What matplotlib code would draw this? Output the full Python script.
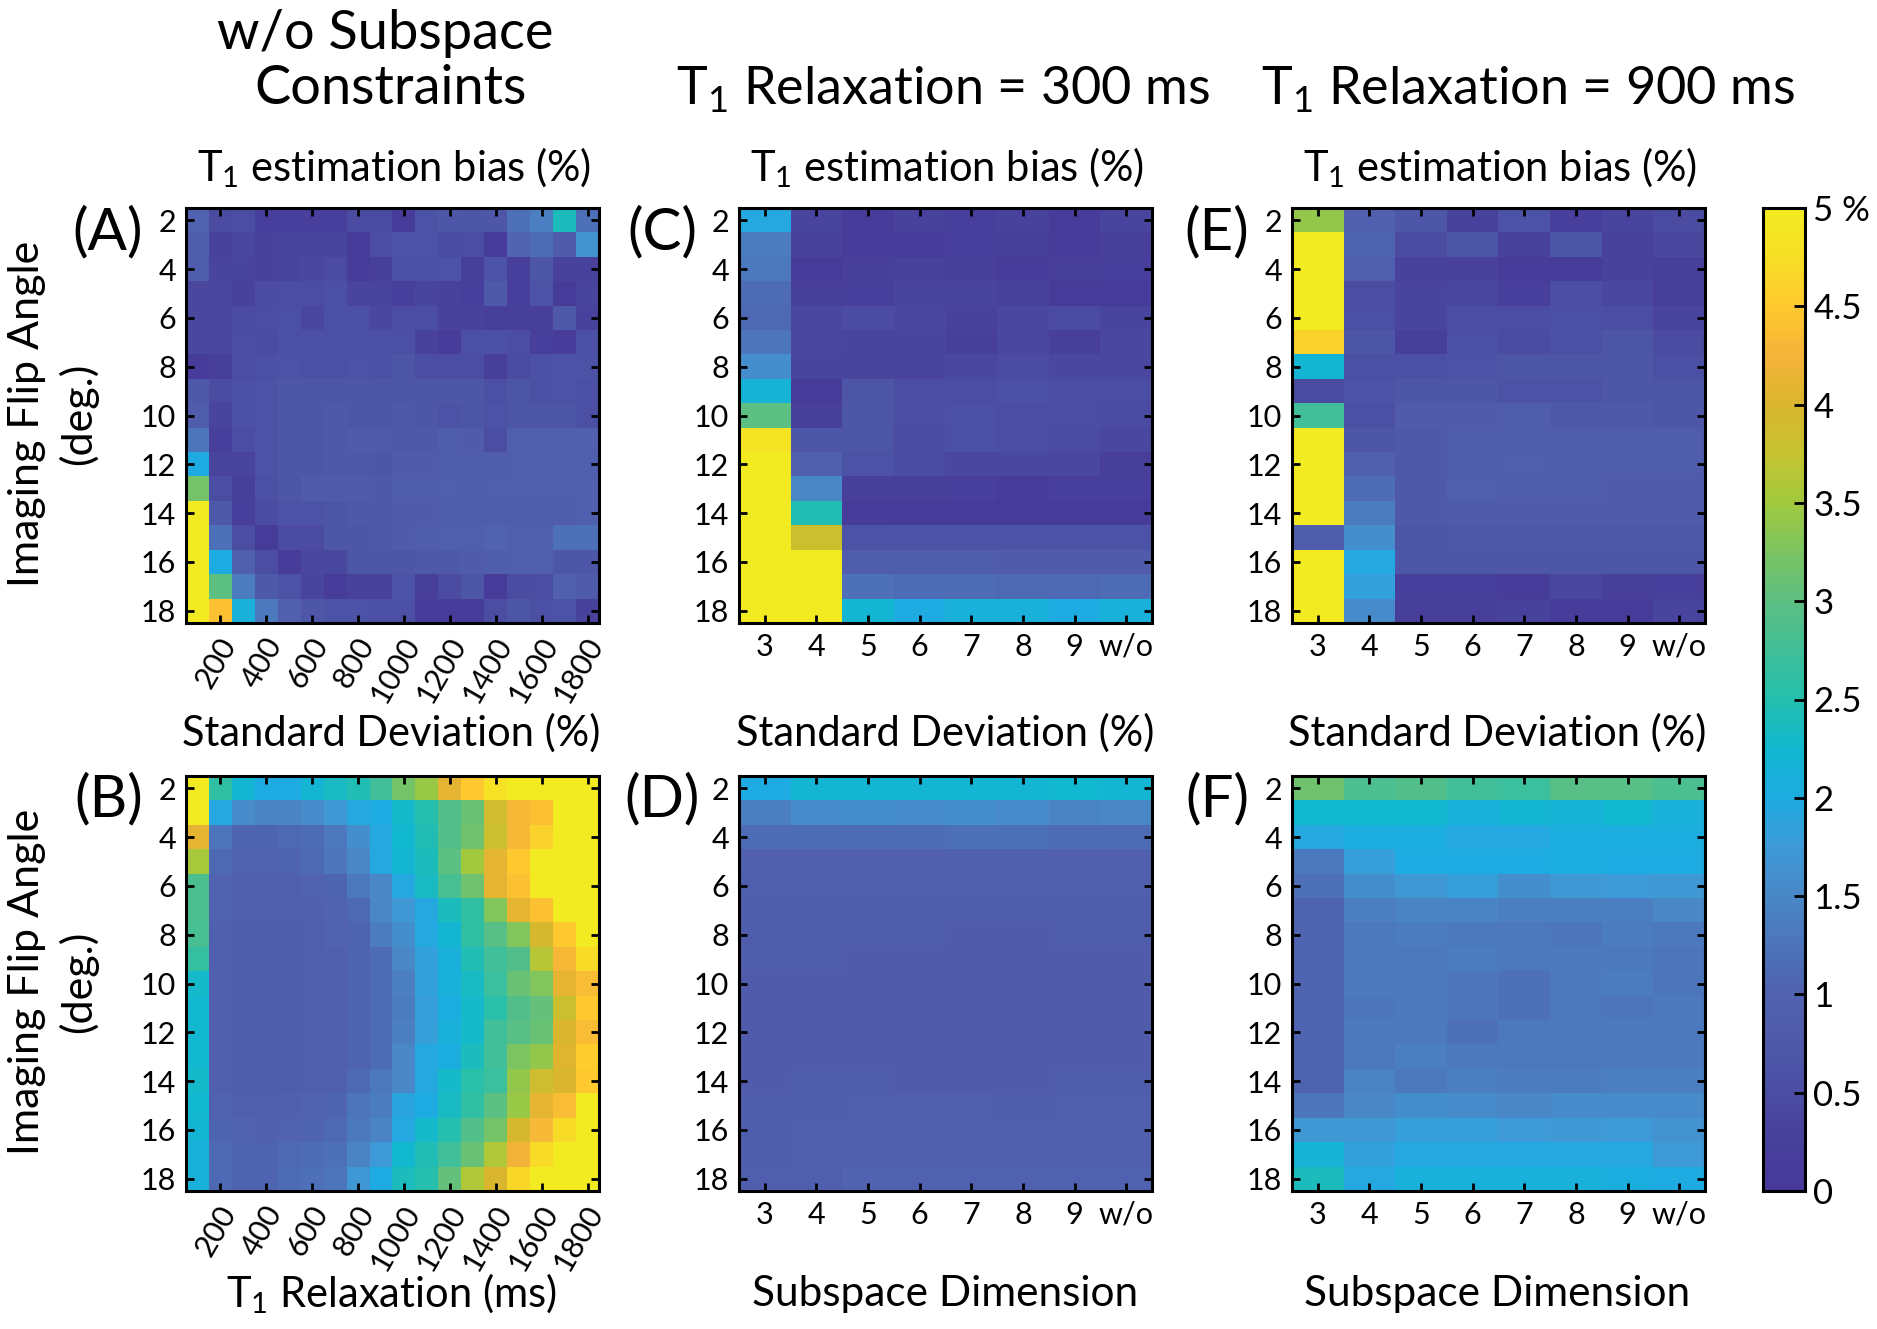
import numpy as np
import matplotlib
matplotlib.use('Agg')
import matplotlib.pyplot as plt
from matplotlib.colors import LinearSegmentedColormap
from matplotlib.transforms import ScaledTranslation

plt.rcParams['font.family'] = ['Lato', 'DejaVu Sans']
plt.rcParams['mathtext.default'] = 'regular'

flip_angles = list(range(2, 19))
t1_values = list(range(100, 1900, 100))
dim_labels = ['3', '4', '5', '6', '7', '8', '9', 'w/o']

bias_t1 = np.array([
    [1.0,.45,.5,.2,.2,.2,.2,.45,.45,.15,.6,.7,.65,.7,1.2,1.4,2.4,1.2],
    [.85,.3,.4,.3,.35,.35,.35,.15,.5,.6,.6,.45,.5,.15,1.0,1.15,.8,1.65],
    [.85,.35,.35,.3,.35,.4,.45,.15,.25,.55,.55,.6,.25,.6,.2,.7,.3,.3],
    [.4,.4,.3,.45,.5,.5,.55,.35,.35,.2,.35,.3,.2,.75,.2,.6,.1,.35],
    [.4,.4,.45,.5,.55,.4,.55,.55,.4,.5,.5,.3,.3,.25,.25,.25,.75,.3],
    [.4,.4,.5,.45,.55,.55,.55,.55,.55,.55,.3,.15,.55,.55,.5,.2,.15,.55],
    [.15,.25,.5,.55,.6,.55,.55,.6,.55,.65,.5,.5,.5,.25,.45,.55,.6,.6],
    [.75,.45,.55,.6,.7,.7,.7,.7,.7,.7,.7,.7,.7,.55,.65,.55,.6,.55],
    [.85,.35,.55,.6,.7,.7,.75,.7,.7,.75,.7,.6,.65,.6,.65,.65,.65,.55],
    [1.25,.2,.5,.6,.7,.7,.75,.8,.8,.75,.75,.85,.8,.5,.9,.9,.9,.95],
    [2.0,.35,.35,.6,.7,.7,.75,.75,.7,.8,.8,.85,.85,.85,.9,.9,.9,.9],
    [3.2,.5,.25,.55,.7,.8,.8,.8,.75,.85,.85,.9,.85,.9,.9,.9,.9,.95],
    [5,.75,.2,.45,.6,.6,.65,.75,.75,.8,.8,.85,.85,.85,.85,.85,.85,.95],
    [5,1.2,.5,.1,.45,.45,.7,.7,.75,.8,.85,.9,.9,1.0,.9,.9,1.2,1.2],
    [5,2.0,.9,.5,.15,.4,.4,.65,.7,.7,.75,.75,.8,.85,.9,.9,.7,.7],
    [5,3.0,1.35,.75,.6,.35,.15,.3,.3,.6,.25,.45,.65,.1,.45,.5,.95,.8],
    [5,4.4,2.1,1.3,.95,.7,.6,.6,.55,.55,.15,.15,.15,.5,.65,.55,.6,.3],
])

std_t1 = np.array([
    [5,2.6,2.2,2.0,2.0,2.2,2.35,2.45,2.75,3.2,3.45,4.1,4.5,4.8,5,5,5,5],
    [5,1.95,1.55,1.45,1.45,1.55,1.7,1.95,2.0,2.3,2.5,2.9,3.1,3.9,4.3,4.4,5,5],
    [4.1,1.25,1.05,1.05,1.1,1.15,1.3,1.6,1.95,2.25,2.45,2.9,3.15,3.8,4.3,4.6,5,5],
    [3.55,1.1,1.0,1.0,1.05,1.1,1.25,1.5,1.95,2.2,2.4,3.0,3.5,4.1,4.5,5,5,5],
    [2.85,1.0,.95,.95,.95,1.0,1.05,1.3,1.5,1.95,2.35,2.8,3.15,4.1,4.4,5,5,5],
    [2.85,1.0,.9,.9,.9,.95,1.0,1.1,1.5,1.7,1.95,2.4,2.6,3.3,4.1,4.4,5,5],
    [2.8,.95,.85,.85,.85,.9,1.0,1.05,1.35,1.6,1.95,2.2,2.6,2.95,3.3,3.95,4.5,5],
    [2.65,.95,.85,.85,.85,.9,.95,1.05,1.15,1.5,1.85,2.1,2.45,2.75,2.9,3.65,4.3,4.7],
    [2.3,.95,.85,.85,.85,.9,.95,1.05,1.15,1.4,1.85,2.1,2.35,2.7,3.1,3.3,4.1,4.35],
    [2.25,.95,.85,.85,.85,.9,.95,1.05,1.15,1.35,1.8,2.05,2.3,2.55,2.9,3.05,3.8,4.5],
    [2.25,.95,.85,.85,.85,.9,.95,1.05,1.15,1.4,1.8,2.1,2.3,2.75,2.95,3.1,4.0,4.35],
    [2.25,.95,.85,.85,.85,.9,.95,1.05,1.15,1.5,1.95,2.05,2.4,2.75,3.25,3.4,4.05,4.55],
    [2.3,.95,.85,.85,.85,.9,.95,1.1,1.3,1.5,1.95,2.3,2.55,2.7,3.4,3.85,4.0,4.5],
    [2.25,1.0,.9,.9,.95,1.0,1.05,1.25,1.35,1.9,2.0,2.35,2.6,3.0,3.45,4.1,4.35,5],
    [2.2,1.05,1.0,.95,1.0,1.05,1.1,1.3,1.45,1.95,2.3,2.5,2.9,3.2,3.95,4.3,4.7,5],
    [2.1,1.1,1.05,1.05,1.1,1.15,1.2,1.45,1.75,2.25,2.45,2.75,3.1,3.6,4.2,4.7,5,5],
    [2.1,1.1,1.05,1.05,1.15,1.2,1.25,1.7,2.0,2.4,2.5,3.05,3.6,4.0,4.65,5,5,5],
])

bias_300 = np.array([
    [1.95,.35,.15,.3,.2,.3,.15,.35],
    [1.35,.3,.15,.1,.2,.25,.15,.25],
    [1.3,.1,.25,.3,.25,.15,.25,.2],
    [1.15,.25,.2,.35,.35,.3,.1,.1],
    [1.1,.4,.45,.4,.3,.4,.45,.35],
    [1.25,.4,.35,.35,.25,.4,.25,.4],
    [1.6,.35,.35,.35,.4,.45,.4,.4],
    [2.15,.1,.65,.5,.5,.55,.5,.5],
    [3.0,.25,.65,.5,.55,.5,.5,.45],
    [4.85,.7,.65,.45,.55,.5,.45,.4],
    [5,.95,.6,.45,.4,.4,.4,.25],
    [5,1.5,.25,.25,.2,.1,.2,.2],
    [5,2.45,.15,.1,.1,.1,.1,.1],
    [5,3.8,.6,.6,.6,.6,.6,.6],
    [5,5,.85,.85,.85,.8,.8,.8],
    [5,5,1.2,1.15,1.15,1.1,1.1,1.15],
    [5,5,2.2,2.0,2.1,2.1,2.0,2.1],
])

std_300 = np.array([
    [2.0,2.2,2.2,2.2,2.2,2.2,2.25,2.2],
    [1.4,1.55,1.6,1.55,1.6,1.55,1.45,1.5],
    [1.15,1.15,1.15,1.15,1.2,1.2,1.15,1.15],
    [.95,.95,.95,.95,.95,.95,.95,.95],
    [.9,.9,.9,.9,.9,.9,.9,.9],
    [.85,.85,.85,.85,.85,.85,.85,.85],
    [.85,.85,.85,.85,.82,.82,.85,.85],
    [.85,.85,.82,.82,.82,.82,.82,.82],
    [.82,.82,.82,.8,.8,.82,.82,.82],
    [.82,.82,.82,.82,.82,.82,.82,.82],
    [.82,.82,.8,.8,.8,.8,.8,.82],
    [.82,.82,.82,.8,.8,.8,.82,.82],
    [.82,.85,.85,.82,.82,.82,.85,.85],
    [.85,.85,.88,.88,.88,.85,.88,.88],
    [.85,.88,.9,.9,.9,.9,.9,.9],
    [.85,.88,.9,.92,.92,.92,.92,.92],
    [.88,.9,1.0,.98,.98,.98,.98,.98],
])

bias_900 = np.array([
    [3.4,.95,.7,.3,.6,.2,.35,.45],
    [5,1.05,.45,.65,.3,.65,.3,.4],
    [5,.9,.3,.3,.15,.1,.3,.25],
    [5,.5,.35,.4,.2,.5,.4,.25],
    [5,.55,.35,.5,.5,.55,.5,.35],
    [4.6,.65,.25,.55,.45,.55,.65,.45],
    [2.2,.55,.55,.6,.65,.65,.7,.55],
    [.45,.6,.7,.7,.6,.6,.7,.65],
    [2.75,.55,.8,.8,.85,.75,.75,.7],
    [5,.7,.75,.85,.85,.85,.85,.85],
    [5,.95,.75,.85,.9,.85,.85,.85],
    [5,1.15,.75,.9,.85,.85,.8,.8],
    [5,1.35,.75,.8,.8,.8,.8,.8],
    [.85,1.6,.65,.75,.75,.75,.75,.75],
    [5,1.95,.7,.7,.7,.7,.7,.7],
    [5,1.85,.2,.2,.15,.4,.25,.2],
    [5,1.55,.25,.25,.3,.15,.1,.35],
])

std_900 = np.array([
    [3.15,2.85,2.9,2.75,2.7,2.95,2.95,2.85],
    [2.25,2.25,2.25,2.1,2.2,2.15,2.25,2.1],
    [1.95,2.05,2.05,1.95,1.95,2.05,2.05,2.05],
    [1.3,1.8,2.0,2.0,2.0,2.05,2.0,2.0],
    [1.2,1.6,1.7,1.8,1.6,1.7,1.75,1.7],
    [1.05,1.4,1.45,1.45,1.4,1.4,1.4,1.5],
    [1.05,1.3,1.35,1.3,1.3,1.25,1.35,1.3],
    [1.05,1.3,1.3,1.35,1.3,1.3,1.3,1.25],
    [1.05,1.3,1.3,1.25,1.2,1.3,1.35,1.25],
    [1.05,1.25,1.3,1.25,1.2,1.3,1.25,1.3],
    [1.05,1.3,1.3,1.2,1.3,1.3,1.3,1.3],
    [1.05,1.3,1.4,1.3,1.3,1.3,1.3,1.3],
    [1.05,1.45,1.3,1.4,1.35,1.35,1.4,1.4],
    [1.25,1.5,1.6,1.55,1.5,1.55,1.55,1.55],
    [1.7,1.7,1.8,1.8,1.75,1.7,1.75,1.65],
    [2.15,1.85,1.95,1.95,1.95,1.95,1.95,1.75],
    [2.4,1.95,2.1,2.1,2.1,2.1,2.05,2.0],
])

# colours
cmap_values = [0, .25, .5, .75, 1, 1.5, 1.75, 2, 2.25, 2.5, 3, 3.25, 3.5, 3.75, 4, 4.25, 4.5, 4.75, 5]
cmap_colors = ['#47399a', '#49409c', '#4b4ea3', '#505aab', '#5062b0', '#4a88c8', '#3d9bd7', '#1eabe2', '#12b8d0',
               '#25bfae', '#5dc083', '#7cc463', '#a1ca3f', '#c6c430', '#d9b62e', '#f6b33a', '#fec92f',
               '#f7df26', '#f3eb22']
parula = LinearSegmentedColormap.from_list('parula_like', [(v / 5, c) for v, c in zip(cmap_values, cmap_colors)])

W, H = 1877, 1329
fig = plt.figure(figsize=(W / 100, H / 100), dpi=100)


def box(x0, y0, x1, y1):
    # pixel box to figure axes
    return fig.add_axes([x0 / W, 1 - y1 / H, (x1 - x0) / W, (y1 - y0) / H])


def label(x, y, s, size, **kw):
    fig.text(x / W, 1 - y / H, s, fontsize=size, ha='center', va='center', **kw)


def panel(x0, y0, x1, y1, data, t1_axis):
    ax = box(x0, y0, x1, y1)
    if t1_axis:
        ext = [t1_values[0] - 50, t1_values[-1] + 50, 18.5, 1.5]
    else:
        ext = [-.5, len(dim_labels) - .5, 18.5, 1.5]
    ax.imshow(data, cmap=parula, vmin=0, vmax=5, extent=ext, aspect='auto', interpolation='nearest')
    ax.set_yticks(flip_angles[::2])
    ax.tick_params(direction='in', length=6, width=2, top=True, right=True, labelsize=TICK_SIZE, pad=7)
    if t1_axis:
        ax.set_xticks(t1_values[1::2])
        ax.set_xticklabels(t1_values[1::2], rotation=60, ha='right', va='center', rotation_mode='anchor')
        ax.tick_params(axis='x', pad=12)
        # long labels end just right of their tick
        shift = ScaledTranslation(9 / 100, 0, fig.dpi_scale_trans)
        for lbl in ax.get_xticklabels():
            lbl.set_transform(lbl.get_transform() + shift)
    else:
        ax.set_xticks(range(len(dim_labels)))
        ax.set_xticklabels(dim_labels)
    for s in ax.spines.values():
        s.set_linewidth(2.2)
    return ax


TICK_SIZE = 22
TITLE_SIZE = 38
HEAD_SIZE = 30
LETTER_SIZE = 42

panel(186, 208, 599, 623, bias_t1, True)
panel(186, 776, 599, 1191, std_t1, True)
panel(739, 208, 1152, 623, bias_300, False)
panel(739, 776, 1152, 1191, std_300, False)
panel(1292, 208, 1705, 623, bias_900, False)
panel(1292, 776, 1705, 1191, std_900, False)

# colour bar
cax = box(1763, 208, 1805, 1191)
cb_vals = np.linspace(0, 5, 256).reshape(-1, 1)
cax.imshow(cb_vals, cmap=parula, vmin=0, vmax=5, extent=[0, 1, 0, 5], origin='lower', aspect='auto')
cax.set_xticks([])
cax.yaxis.tick_right()
cb_ticks = [0, .5, 1, 1.5, 2, 2.5, 3, 3.5, 4, 4.5, 5]
cb_labels = ['0', '0.5', '1', '1.5', '2', '2.5', '3', '3.5', '4', '4.5', '5 %']
cax.set_yticks(cb_ticks)
cax.set_yticklabels(cb_labels)
cax.tick_params(direction='in', length=8, width=2, labelsize=25, pad=6)
for s in cax.spines.values():
    s.set_linewidth(2.2)

# column headings
label(385, 33, 'w/o Subspace', 39)
label(391, 89, 'Constraints', 39)
label(943, 90, 'T$_1$ Relaxation = 300 ms', TITLE_SIZE - .5)
label(1528, 90, 'T$_1$ Relaxation = 900 ms', TITLE_SIZE - .5)

for cx in [394, 947, 1500]:
    label(cx, 168, 'T$_1$ estimation bias (%)', HEAD_SIZE)
for cx in [391, 945, 1497]:
    label(cx, 733, 'Standard Deviation (%)', HEAD_SIZE)

label(391, 1294, 'T$_1$ Relaxation (ms)', 30)
label(945, 1294, 'Subspace Dimension', 30.5)
label(1497, 1294, 'Subspace Dimension', 30.5)

for cy in [414, 982]:
    label(27, cy, 'Imaging Flip Angle', 31, rotation=90)
    label(78, cy, '(deg.)', 31, rotation=90)

for name, cx, cy in [('(A)', 108, 233), ('(B)', 109, 800), ('(C)', 662, 233),
                     ('(D)', 662, 800), ('(E)', 1217, 233), ('(F)', 1217, 800)]:
    label(cx, cy, name, LETTER_SIZE)

fig.savefig('out.png', dpi=100)
